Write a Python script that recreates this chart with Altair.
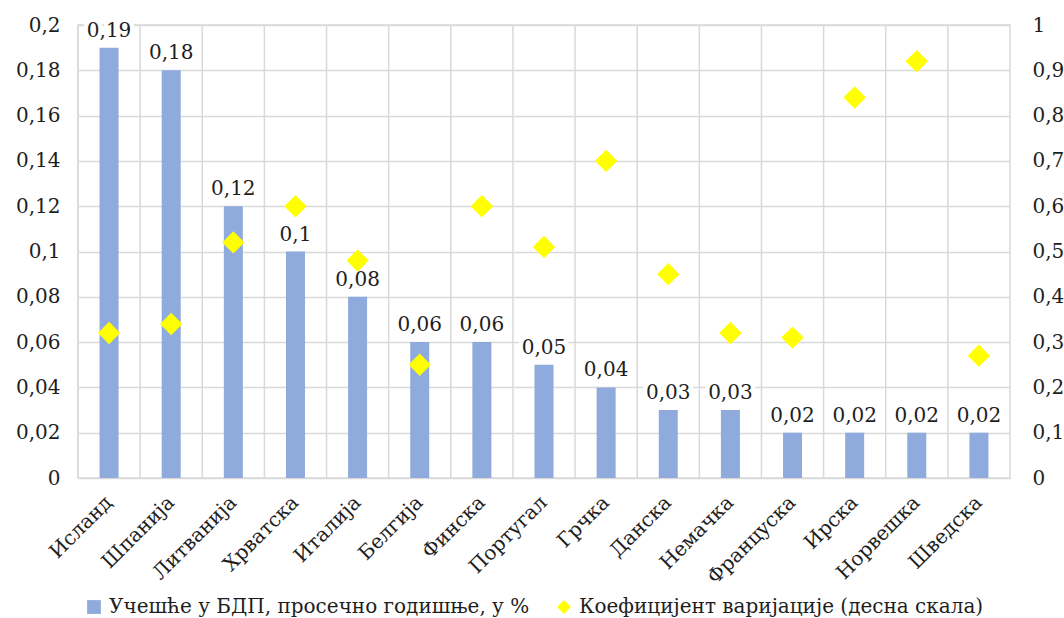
import altair as alt
import pandas as pd

# Countries, average share of GDP (left axis) and coefficient of variation (right axis)
countries = ["Исланд", "Шпанија", "Литванија", "Хрватска", "Италија", "Белгија",
             "Финска", "Португал", "Грчка", "Данска", "Немачка", "Француска",
             "Ирска", "Норвешка", "Шведска"]
gdp_share = [0.19, 0.18, 0.12, 0.10, 0.08, 0.06, 0.06, 0.05, 0.04, 0.03, 0.03,
             0.02, 0.02, 0.02, 0.02]
coef_var = [0.32, 0.34, 0.52, 0.60, 0.48, 0.25, 0.60, 0.51, 0.70, 0.45, 0.32,
            0.31, 0.84, 0.92, 0.27]

bar_series = "Учешће у БДП, просечно годишње, у %"
point_series = "Коефицијент варијације (десна скала)"

left_ticks = [0, 0.02, 0.04, 0.06, 0.08, 0.1, 0.12, 0.14, 0.16, 0.18, 0.2]
right_ticks = [0, 0.1, 0.2, 0.3, 0.4, 0.5, 0.6, 0.7, 0.8, 0.9, 1]

bars_df = pd.DataFrame({"country": countries, "share": gdp_share, "series": bar_series})
points_df = pd.DataFrame({"country": countries, "cv": coef_var, "series": point_series})
grid_df = pd.DataFrame({"country": countries})

FONT = "DejaVu Serif"
FS = 20
TXT = "#1e1e1e"
GRID = "#d9d9d9"
BLUE = "#8faadc"
YELLOW = "#ffff00"
comma = "replace(format(datum.value, '~g'), '.', ',')"

x_enc = alt.X(
    "country:N", sort=countries,
    scale=alt.Scale(paddingInner=0, paddingOuter=0),
    axis=alt.Axis(title=None, labelAngle=-45, ticks=False, domain=False, grid=False,
                  labelFont=FONT, labelFontSize=FS, labelColor=TXT, labelPadding=21,
                  labelLimit=300),
)

y_left = alt.Y(
    "share:Q",
    scale=alt.Scale(domain=[0, 0.2], nice=False),
    axis=alt.Axis(title=None, values=left_ticks, labelExpr=comma, grid=True,
                  gridColor=GRID, gridWidth=1.5, domain=False, ticks=False,
                  labelFont=FONT, labelFontSize=FS, labelColor=TXT, labelPadding=18),
)

color_enc = alt.Color(
    "series:N",
    scale=alt.Scale(domain=[bar_series, point_series], range=[BLUE, YELLOW]),
    legend=alt.Legend(title=None, orient="none", direction="horizontal",
                      legendX=6, legendY=572, labelFont=FONT, labelFontSize=FS,
                      labelColor=TXT, labelLimit=700, symbolSize=190,
                      symbolStrokeWidth=0, columnPadding=24, labelOffset=5),
)

# vertical gridlines at the category boundaries
vgrid = alt.Chart(grid_df).mark_rule(color=GRID, strokeWidth=1.5).encode(
    x=alt.X("country:N", sort=countries, bandPosition=0,
            scale=alt.Scale(paddingInner=0, paddingOuter=0))
)

bars = alt.Chart(bars_df).mark_bar(width=19).encode(
    x=x_enc, y=y_left, color=color_enc
)

# value labels sit on a white box that hides the gridlines behind them
label_base = alt.Chart(bars_df).transform_calculate(
    txt="replace(format(datum.share, '~g'), '.', ',')"
).encode(x=x_enc, y=y_left)

label_box = label_base.mark_text(
    baseline="bottom", dy=-7, font=FONT, fontSize=FS, color="white",
    stroke="white", strokeWidth=9, strokeJoin="miter"
).encode(text="txt:N")

labels = label_base.mark_text(
    baseline="bottom", dy=-7, font=FONT, fontSize=FS, color=TXT
).encode(text="txt:N")

points = alt.Chart(points_df).mark_point(filled=True, size=500, opacity=1).encode(
    x=x_enc,
    y=alt.Y("cv:Q", scale=alt.Scale(domain=[0, 1], nice=False),
            axis=alt.Axis(title=None, orient="right", values=right_ticks,
                          labelExpr=comma, grid=False, domain=False, ticks=False,
                          labelFont=FONT, labelFontSize=FS, labelColor=TXT,
                          labelPadding=22)),
    color=color_enc,
    shape=alt.Shape("series:N",
                    scale=alt.Scale(domain=[bar_series, point_series],
                                    range=["square", "diamond"]),
                    legend=None),
)

left = alt.layer(vgrid, bars, label_box, labels)

chart = alt.layer(left, points).resolve_scale(y="independent").properties(
    width=932, height=453,
    autosize=alt.AutoSizeParams(type="none"),
    padding={"left": 78, "top": 25, "right": 54, "bottom": 140},
    background="white",
).configure_view(stroke=GRID, strokeWidth=1.5)

chart.save("out.html", embed_options={"renderer": "svg", "actions": False})
